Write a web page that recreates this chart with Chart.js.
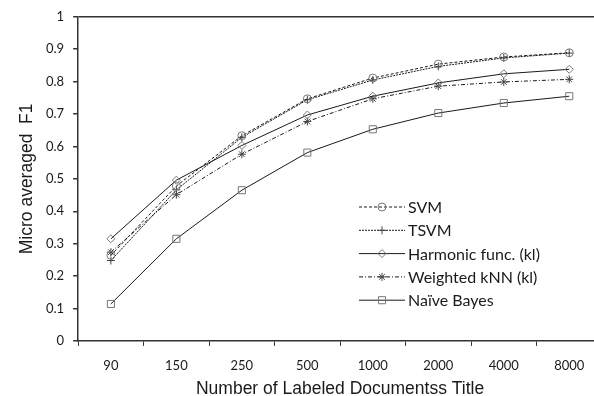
<!DOCTYPE html>
<html lang="en">
<head>
<meta charset="UTF-8">
<title>Micro averaged F1</title>
<script src="https://cdn.jsdelivr.net/npm/chart.js"></script>
<style>
  body { margin: 0; overflow: hidden; background: #fff; }
</style>
</head>
<body>
<canvas id="myChart" width="610" height="396"></canvas>
<script>
// data
const labels = ['90', '150', '250', '500', '1000', '2000', '4000', '8000'];
const svm      = [0.264, 0.478, 0.633, 0.747, 0.811, 0.854, 0.876, 0.889];
const tsvm     = [0.248, 0.466, 0.628, 0.744, 0.805, 0.847, 0.873, 0.888];
const harmonic = [0.315, 0.496, 0.603, 0.697, 0.755, 0.796, 0.824, 0.838];
const knn      = [0.274, 0.451, 0.576, 0.677, 0.747, 0.786, 0.799, 0.807];
const bayes    = [0.114, 0.315, 0.465, 0.581, 0.653, 0.703, 0.734, 0.755];
const seriesNames = ['SVM', 'TSVM', 'Harmonic func. (kl)', 'Weighted kNN (kl)', 'Naïve Bayes'];

function makeSet(name, data, style, dash, radius, markColor) {
    return {
        label: name,
        data: data,
        borderColor: '#1a1a1a',
        borderWidth: 1,
        borderDash: dash,
        pointStyle: style,
        pointRadius: radius,
        pointBorderColor: markColor,
        pointBackgroundColor: 'rgba(0,0,0,0)',
        pointBorderWidth: 1,
        tension: 0
    };
}

// legend drawn inside the plot, like the original
const innerLegend = {
    id: 'innerLegend',
    afterDatasetsDraw(chart) {
        const ctx = chart.ctx;
        chart.data.datasets.forEach((ds, i) => {
            const y = 207 + i * 23.3;
            ctx.save();
            ctx.strokeStyle = ds.borderColor;
            ctx.lineWidth = 1;
            ctx.setLineDash(ds.borderDash || []);
            ctx.beginPath();
            ctx.moveTo(359, y);
            ctx.lineTo(405, y);
            ctx.stroke();
            ctx.setLineDash([]);
            ctx.strokeStyle = ds.pointBorderColor;
            ctx.fillStyle = 'rgba(0,0,0,0)';
            Chart.helpers.drawPoint(ctx, { pointStyle: ds.pointStyle, radius: ds.pointRadius, borderWidth: 1, rotation: 0 }, 382, y);
            ctx.fillStyle = '#1a1a1a';
            ctx.font = '16px Lato';
            ctx.textBaseline = 'middle';
            ctx.fillText(ds.label, 408, y + 1);
            ctx.restore();
        });
    }
};

let ctx = document.getElementById('myChart').getContext('2d');
let myChart = new Chart(ctx, {
    type: 'line',
    data: {
        labels: labels,
        datasets: [
            makeSet(seriesNames[0], svm, 'circle', [3, 2], 4, '#777'),
            makeSet(seriesNames[1], tsvm, 'cross', [2, 1], 4, '#444'),
            makeSet(seriesNames[2], harmonic, 'rectRot', [], 4, '#777'),
            makeSet(seriesNames[3], knn, 'star', [4, 2, 1, 2], 4, '#444'),
            makeSet(seriesNames[4], bayes, 'rect', [], 5, '#777')
        ]
    },
    plugins: [innerLegend],
    options: {
        responsive: false,
        animation: false,
        layout: { padding: { top: 10, right: 8, left: 17, bottom: 0 } },
        plugins: {
            legend: { display: false },
            tooltip: { enabled: false }
        },
        scales: {
            x: {
                offset: true,
                grid: {
                    offset: true,
                    drawOnChartArea: false,
                    tickLength: 5,
                    tickColor: '#333'
                },
                border: { color: '#333', width: 1.5 },
                ticks: { color: '#1a1a1a', font: { family: 'Lato', size: 13 }, padding: 12, maxRotation: 0 },
                title: {
                    display: true,
                    text: 'Number of Labeled Documentss Title',
                    color: '#1a1a1a',
                    font: { family: 'Liberation Sans', size: 17.5, lineHeight: 1 },
                    padding: { top: -5, bottom: -2 }
                }
            },
            y: {
                min: 0,
                max: 1,
                ticks: {
                    stepSize: 0.1,
                    color: '#1a1a1a',
                    font: { family: 'Lato', size: 13 },
                    padding: 9,
                    callback: v => String(+v.toFixed(1))
                },
                grid: {
                    tickLength: 5,
                    tickColor: '#333',
                    color: c => c.tick && c.tick.value === 1 ? '#333' : 'rgba(0,0,0,0)',
                    lineWidth: 1.5
                },
                border: { color: '#333', width: 1.5 },
                title: {
                    display: true,
                    text: 'Micro averaged  F1',
                    color: '#1a1a1a',
                    font: { family: 'Liberation Sans', size: 17.5 },
                    padding: { top: 0, bottom: -1 }
                }
            }
        }
    }
});
</script>
</body>
</html>
